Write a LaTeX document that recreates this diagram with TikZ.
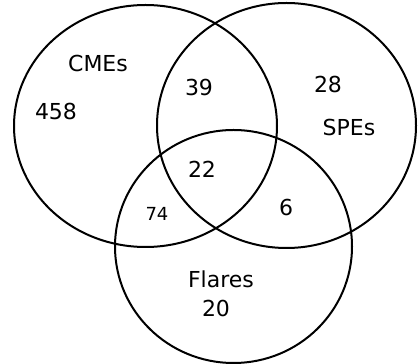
\documentclass[tikz,border=0pt]{standalone}
\usepackage{fontspec}
\setmainfont{DejaVu Sans}
\tikzset{
set/.style={line width=2pt},
count/.style={font=\fontsize{22}{24}\selectfont},
small count/.style={font=\fontsize{18}{20}\selectfont}
}
\begin{document}
\begin{tikzpicture}[x=1pt,y=1pt]
\useasboundingbox (0,0) rectangle (418,364);
\foreach \cx/\cy/\rx/\ry in {145.5/238/131.5/121,286.5/238.5/129.5/122.5,233.5/117.5/118.5/116.5}
\draw[set] (\cx,\cy) ellipse [x radius=\rx, y radius=\ry];
\node[count] (cmes) at (98,301) {CMEs};
\node[count] (spes) at (349,237) {SPEs};
\node[count] (flares) at (221,85) {Flares};
\node[count] (onlycmes) at (56,253) {458};
\node[count] (onlyspes) at (328,280) {28};
\node[count] (onlyflares) at (216,56) {20};
\node[count] (cmesspes) at (199,277) {39};
\node[count] (all) at (202,195) {22};
\node[small count] (cmesflares) at (157,150) {74};
\node[count] (spesflares) at (286,157) {6};
\end{tikzpicture}
\end{document}
